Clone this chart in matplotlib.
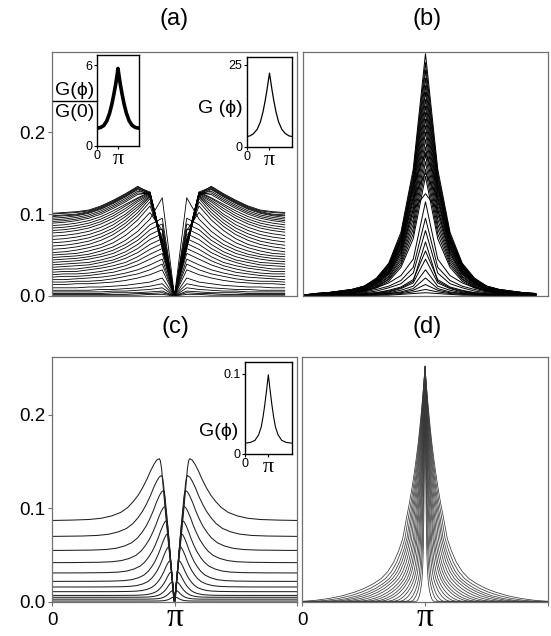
import numpy as np
import matplotlib
matplotlib.use("Agg")
import matplotlib.pyplot as plt
from matplotlib.transforms import blended_transform_factory

plt.rcParams['font.family'] = ['Liberation Sans', 'DejaVu Sans']
SERIF = ['Liberation Serif', 'DejaVu Serif']
PI = np.pi

# ---------------- data ----------------
# panel (a): coarse grid phi_j = j*2pi/20; values for j = 0..9 (value at pi = 0, right half mirrors)
a_grid_n = 20
a_center = 0.0
a_curves = [
    [0.101, 0.102, 0.103, 0.105, 0.110, 0.117, 0.125, 0.134, 0.125, 0.062],
    [0.100, 0.101, 0.102, 0.104, 0.109, 0.116, 0.124, 0.133, 0.127, 0.064],
    [0.098, 0.099, 0.100, 0.103, 0.108, 0.115, 0.123, 0.132, 0.124, 0.060],
    [0.097, 0.098, 0.099, 0.102, 0.107, 0.114, 0.122, 0.131, 0.126, 0.066],
    [0.095, 0.096, 0.098, 0.101, 0.106, 0.113, 0.121, 0.130, 0.123, 0.058],
    [0.093, 0.094, 0.096, 0.099, 0.104, 0.111, 0.119, 0.128, 0.125, 0.063],
    [0.091, 0.092, 0.094, 0.097, 0.102, 0.109, 0.117, 0.126, 0.124, 0.061],
    [0.089, 0.090, 0.092, 0.095, 0.100, 0.107, 0.115, 0.124, 0.126, 0.065],
    [0.086, 0.087, 0.089, 0.092, 0.097, 0.104, 0.112, 0.120, 0.127, 0.063],
    [0.083, 0.084, 0.086, 0.089, 0.094, 0.101, 0.110, 0.119, 0.126, 0.065],
    [0.080, 0.081, 0.083, 0.086, 0.091, 0.098, 0.107, 0.117, 0.125, 0.062],
    [0.077, 0.078, 0.080, 0.083, 0.088, 0.095, 0.104, 0.115, 0.124, 0.066],
    [0.073, 0.074, 0.076, 0.079, 0.084, 0.091, 0.100, 0.112, 0.123, 0.060],
    [0.069, 0.070, 0.072, 0.075, 0.080, 0.087, 0.097, 0.109, 0.122, 0.064],
    [0.065, 0.066, 0.068, 0.071, 0.076, 0.083, 0.093, 0.106, 0.121, 0.059],
    [0.061, 0.062, 0.064, 0.067, 0.072, 0.079, 0.089, 0.102, 0.119, 0.062],
    [0.057, 0.058, 0.060, 0.063, 0.068, 0.075, 0.085, 0.098, 0.115, 0.066],
    [0.053, 0.054, 0.056, 0.059, 0.063, 0.070, 0.080, 0.093, 0.110, 0.070],
    [0.050, 0.051, 0.052, 0.055, 0.059, 0.065, 0.074, 0.086, 0.102, 0.080],
    [0.047, 0.048, 0.049, 0.051, 0.055, 0.060, 0.068, 0.079, 0.094, 0.120],
    [0.044, 0.045, 0.046, 0.048, 0.051, 0.056, 0.063, 0.073, 0.087, 0.095],
    [0.041, 0.042, 0.043, 0.045, 0.048, 0.052, 0.059, 0.068, 0.081, 0.088],
    [0.038, 0.039, 0.040, 0.041, 0.044, 0.048, 0.054, 0.063, 0.075, 0.082],
    [0.035, 0.036, 0.037, 0.038, 0.041, 0.044, 0.050, 0.058, 0.069, 0.076],
    [0.032, 0.033, 0.033, 0.035, 0.037, 0.041, 0.046, 0.053, 0.063, 0.070],
    [0.029, 0.030, 0.030, 0.032, 0.034, 0.037, 0.041, 0.048, 0.057, 0.064],
    [0.026, 0.027, 0.027, 0.028, 0.030, 0.033, 0.037, 0.043, 0.051, 0.058],
    [0.023, 0.024, 0.024, 0.025, 0.027, 0.029, 0.033, 0.038, 0.045, 0.052],
    [0.020, 0.020, 0.021, 0.022, 0.023, 0.025, 0.028, 0.032, 0.038, 0.045],
    [0.017, 0.017, 0.018, 0.018, 0.019, 0.021, 0.024, 0.027, 0.032, 0.039],
    [0.014, 0.014, 0.015, 0.015, 0.016, 0.017, 0.019, 0.022, 0.026, 0.032],
    [0.010, 0.010, 0.010, 0.011, 0.011, 0.012, 0.013, 0.015, 0.017, 0.022],
    [0.007, 0.007, 0.007, 0.007, 0.008, 0.008, 0.009, 0.010, 0.012, 0.015],
    [0.005, 0.005, 0.005, 0.005, 0.005, 0.006, 0.006, 0.007, 0.008, 0.010],
    [0.003, 0.003, 0.003, 0.003, 0.003, 0.004, 0.004, 0.004, 0.005, 0.006],
    [0.002, 0.002, 0.002, 0.002, 0.002, 0.002, 0.002, 0.003, 0.003, 0.004],
    [0.001, 0.001, 0.001, 0.001, 0.001, 0.001, 0.001, 0.001, 0.002, 0.002],
]

# panel (b): same grid, values for j = 0..10 (last value is at pi), right half mirrors
b_grid_n = 20
b_curves = [
    [0.001, 0.003, 0.004, 0.006, 0.008, 0.012, 0.022, 0.040, 0.078, 0.155, 0.296],
    [0.001, 0.003, 0.004, 0.006, 0.008, 0.012, 0.021, 0.039, 0.075, 0.150, 0.285],
    [0.001, 0.003, 0.004, 0.006, 0.008, 0.012, 0.020, 0.038, 0.073, 0.146, 0.276],
    [0.001, 0.003, 0.004, 0.005, 0.007, 0.011, 0.020, 0.037, 0.071, 0.142, 0.266],
    [0.001, 0.002, 0.004, 0.005, 0.007, 0.011, 0.019, 0.036, 0.069, 0.138, 0.257],
    [0.001, 0.002, 0.004, 0.005, 0.007, 0.011, 0.019, 0.035, 0.067, 0.134, 0.249],
    [0.001, 0.002, 0.004, 0.005, 0.007, 0.010, 0.018, 0.034, 0.065, 0.130, 0.240],
    [0.001, 0.002, 0.004, 0.005, 0.007, 0.010, 0.018, 0.033, 0.063, 0.126, 0.232],
    [0.001, 0.002, 0.003, 0.005, 0.006, 0.010, 0.017, 0.031, 0.061, 0.121, 0.224],
    [0.001, 0.002, 0.003, 0.004, 0.006, 0.009, 0.016, 0.030, 0.058, 0.116, 0.216],
    [0.001, 0.002, 0.003, 0.004, 0.006, 0.009, 0.016, 0.029, 0.056, 0.111, 0.208],
    [0.001, 0.002, 0.003, 0.004, 0.006, 0.008, 0.015, 0.028, 0.053, 0.106, 0.200],
    [0.001, 0.002, 0.003, 0.004, 0.005, 0.008, 0.014, 0.026, 0.050, 0.100, 0.191],
    [0.001, 0.002, 0.003, 0.004, 0.005, 0.008, 0.013, 0.024, 0.047, 0.094, 0.182],
    [0.001, 0.002, 0.002, 0.003, 0.005, 0.007, 0.012, 0.023, 0.044, 0.088, 0.173],
    [0.001, 0.001, 0.002, 0.003, 0.004, 0.007, 0.011, 0.021, 0.041, 0.082, 0.164],
    [0.001, 0.001, 0.002, 0.003, 0.004, 0.006, 0.011, 0.020, 0.038, 0.076, 0.155],
    [0.001, 0.001, 0.002, 0.003, 0.004, 0.006, 0.010, 0.018, 0.035, 0.070, 0.146],
    [0.001, 0.002, 0.004, 0.005, 0.007, 0.011, 0.019, 0.035, 0.068, 0.135, 0.175],
    [0.001, 0.002, 0.003, 0.005, 0.006, 0.010, 0.017, 0.031, 0.060, 0.120, 0.150],
    [0.001, 0.002, 0.003, 0.004, 0.006, 0.008, 0.015, 0.027, 0.053, 0.105, 0.125],
    [0.000, 0.001, 0.002, 0.003, 0.004, 0.006, 0.010, 0.016, 0.025, 0.045, 0.115],
    [0.000, 0.001, 0.002, 0.002, 0.003, 0.005, 0.008, 0.012, 0.019, 0.035, 0.095],
    [0.000, 0.001, 0.001, 0.002, 0.003, 0.004, 0.006, 0.010, 0.015, 0.028, 0.080],
    [0.000, 0.001, 0.001, 0.002, 0.002, 0.003, 0.004, 0.006, 0.010, 0.018, 0.066],
    [0.000, 0.001, 0.001, 0.001, 0.002, 0.003, 0.004, 0.007, 0.011, 0.020, 0.055],
    [0.000, 0.000, 0.001, 0.001, 0.002, 0.002, 0.003, 0.005, 0.009, 0.016, 0.045],
    [0.000, 0.000, 0.001, 0.001, 0.001, 0.002, 0.003, 0.004, 0.007, 0.012, 0.032],
    [0.000, 0.000, 0.000, 0.001, 0.001, 0.001, 0.002, 0.003, 0.005, 0.009, 0.022],
    [0.000, 0.000, 0.000, 0.001, 0.001, 0.001, 0.002, 0.003, 0.004, 0.007, 0.014],
    [0.000, 0.000, 0.000, 0.000, 0.001, 0.001, 0.001, 0.002, 0.003, 0.005, 0.008],
    [0.000, 0.000, 0.000, 0.000, 0.000, 0.001, 0.001, 0.001, 0.002, 0.003, 0.004],
]

# panel (c): per-curve readings (baseline at phi=0, peak height, peak distance from pi, rise width)
c_baseline = [0.087, 0.070, 0.055, 0.042, 0.031, 0.022, 0.016, 0.011, 0.007, 0.005, 0.003, 0.001]
c_peak = [0.153, 0.135, 0.119, 0.102, 0.087, 0.073, 0.059, 0.044, 0.032, 0.021, 0.012, 0.005]
c_peak_offset = [0.39, 0.33, 0.28, 0.24, 0.20, 0.17, 0.14, 0.11, 0.085, 0.068, 0.051, 0.034]
c_rise_width = [0.45, 0.41, 0.37, 0.34, 0.31, 0.28, 0.25, 0.22, 0.19, 0.16, 0.13, 0.10]
# normalised profile: inner (towards pi) and outer flanks
c_inner_t = [0.0, 0.2, 0.4, 0.6, 0.75, 0.85, 0.93, 1.0]
c_inner_h = [0.0, 0.20, 0.41, 0.63, 0.81, 0.93, 0.985, 1.0]
c_outer_v = [0.0, 0.15, 0.3, 0.5, 0.7, 0.95, 1.2, 1.5, 1.8, 2.2, 2.7, 3.3, 4.0, 5.0, 7.0, 10.0]
c_outer_h = [1.0, 0.975, 0.91, 0.80, 0.67, 0.53, 0.41, 0.30, 0.21, 0.13, 0.075, 0.036,
             0.016, 0.006, 0.001, 0.0]

# panel (d): normalised cusp profile of the widest curve, per-curve widths and peaks
d_profile_u = [0.0, 0.01, 0.025, 0.045, 0.07, 0.10, 0.135, 0.175, 0.22, 0.27, 0.33, 0.40,
               0.48, 0.57, 0.67, 0.80, 0.95, 1.12, 1.32, 1.55, 1.8, 2.1, 2.45, 2.8, 3.1416]
d_profile_f = [1.0, 0.978, 0.946, 0.905, 0.856, 0.801, 0.741, 0.678, 0.618, 0.556, 0.489, 0.421,
               0.352, 0.27, 0.22, 0.17, 0.13, 0.10, 0.078, 0.058, 0.042, 0.027, 0.015, 0.007, 0.003]
d_width = [1.0, 0.9, 0.81, 0.74, 0.67, 0.60, 0.53, 0.47, 0.41, 0.36, 0.30, 0.25, 0.20, 0.15, 0.11, 0.07]
d_peak = [0.250, 0.251, 0.252, 0.251, 0.250, 0.249, 0.248, 0.247, 0.246, 0.245, 0.244, 0.243,
          0.242, 0.240, 0.238, 0.236]

# insets: distance from pi and value
ia1_delta = [0, 0.15, 0.35, 0.6, 0.9, 1.25, 1.65, 2.1, 2.6, 3.1416]
ia1_value = [5.75, 5.2, 4.55, 3.85, 3.1, 2.4, 1.85, 1.5, 1.35, 1.3]
ia2_delta = [0, 0.15, 0.35, 0.6, 0.9, 1.25, 1.7, 2.2, 2.7, 3.1416]
ia2_value = [22.5, 20.3, 17.3, 14.0, 10.6, 7.6, 5.3, 4.0, 3.3, 3.1]
ic_delta = [0, 0.1, 0.22, 0.35, 0.5, 0.7, 0.95, 1.3, 1.8, 2.4, 3.1416]
ic_value = [0.099, 0.091, 0.081, 0.071, 0.060, 0.047, 0.034, 0.024, 0.017, 0.0145, 0.0135]


# ---------------- helpers ----------------
def mirror(delta, vals):
    d = np.asarray(delta, float)
    v = np.asarray(vals, float)
    x = np.concatenate([PI - d[::-1], PI + d[1:]])
    y = np.concatenate([v[::-1], v[1:]])
    return x, y


fig = plt.figure(figsize=(5.51, 6.36), dpi=100)
SP = '#707070'


def main_axes(rect, ylim):
    ax = fig.add_axes(rect)
    for s in ax.spines.values():
        s.set_color(SP)
        s.set_linewidth(0.9)
    ax.set_xlim(0, 2 * PI)
    ax.set_ylim(*ylim)
    ax.tick_params(direction='out', length=3, width=0.8, color=SP, labelsize=13.5, pad=2)
    return ax


def inset_axes(rect, ylim, yt, ytl):
    ax = fig.add_axes(rect)
    for s in ax.spines.values():
        s.set_color('black')
        s.set_linewidth(1.0)
    ax.set_xlim(0, 2 * PI)
    ax.set_ylim(*ylim)
    ax.set_yticks(yt)
    ax.set_yticklabels(ytl)
    ax.set_xticks([0, PI])
    ax.set_xticklabels(['0', 'π'])
    ax.tick_params(direction='out', length=2, width=0.8, labelsize=9, pad=1)
    lab = ax.get_xticklabels()
    lab[1].set_fontfamily(SERIF)
    lab[1].set_fontsize(16)
    return ax


YL_AB = (0, 0.298)
YL_CD = (0, 0.2615)

# (a)
ax_a = main_axes([0.0944, 0.5346, 0.4446, 0.3836], YL_AB)
ax_a.set_xticks([])
ax_a.set_yticks([0, 0.1, 0.2])
ax_a.set_yticklabels(['0.0', '0.1', '0.2'])
xa = np.arange(a_grid_n) * 2 * PI / a_grid_n
for row in a_curves:
    ya = row + [a_center] + row[:0:-1]
    ax_a.plot(xa, ya, color='black', lw=0.6)

# (b)
ax_b = main_axes([0.5499, 0.5346, 0.4446, 0.3836], YL_AB)
ax_b.set_xticks([])
ax_b.set_yticks([])
xb = np.arange(b_grid_n) * 2 * PI / b_grid_n
for row in b_curves:
    yb = row + row[-2:0:-1]
    ax_b.plot(xb, yb, color='black', lw=0.7)

# (c)
ax_c = main_axes([0.0944, 0.0535, 0.4446, 0.3852], YL_CD)
ax_c.set_yticks([0, 0.1, 0.2])
ax_c.set_yticklabels(['0.0', '0.1', '0.2'])
for b, p, dp, w in zip(c_baseline, c_peak, c_peak_offset, c_rise_width):
    d_in = np.array(c_inner_t) * dp
    g_in = p * np.array(c_inner_h)
    d_out = dp + np.array(c_outer_v) * w
    g_out = b + (p - b) * np.array(c_outer_h)
    d = np.concatenate([d_in, d_out[1:]])
    g = np.concatenate([g_in, g_out[1:]])
    keep = d < PI
    d = np.append(d[keep], PI)
    g = np.append(g[keep], b)
    x, y = mirror(d, g)
    ax_c.plot(x, y, color='#202020', lw=0.75)

# (d)
ax_d = main_axes([0.5481, 0.0535, 0.4465, 0.3852], YL_CD)
ax_d.set_yticks([])
for s_k, p_k in zip(d_width, d_peak):
    d = np.array(d_profile_u) * s_k
    g = p_k * np.array(d_profile_f)
    if d[-1] < PI:
        d = np.append(d, PI)
        g = np.append(g, 0.0003)
    x, y = mirror(d, g)
    ax_d.plot(x, y, color='#383838', lw=0.55)

for ax in (ax_c, ax_d):
    ax.set_xticks([0, PI, 2 * PI])
    ax.set_xticklabels(['0', '', ''])
    ax.tick_params(axis='x', pad=4)
    tr = blended_transform_factory(ax.transData, ax.transAxes)
    ax.text(PI, -0.098, 'π', transform=tr, ha='center', va='baseline',
            fontsize=24, fontfamily=SERIF)

# panel titles
for xf, yf, t in [(0.3167, 0.9706, '(a)'), (0.7744, 0.9706, '(b)'),
                  (0.3176, 0.4855, '(c)'), (0.7744, 0.4855, '(d)')]:
    fig.text(xf, yf, t, ha='center', va='center', fontsize=17)

# insets
in1 = inset_axes([0.1755, 0.7709, 0.0773, 0.1426], (0, 6.75), [0, 6], ['0', '6'])
x, y = mirror(ia1_delta, ia1_value)
in1.plot(x, y, color='black', lw=2.6)

in2 = inset_axes([0.4477, 0.7693, 0.0828, 0.1415], (0, 27.5), [0, 25], ['0', '25'])
x, y = mirror(ia2_delta, ia2_value)
in2.plot(x, y, color='black', lw=0.9)

in3 = inset_axes([0.4446, 0.2862, 0.0848, 0.1447], (0, 0.115), [0, 0.1], ['0', '0.1'])
x, y = mirror(ic_delta, ic_value)
in3.plot(x, y, color='black', lw=0.8)

# inset y labels
fig.text(0.1356, 0.857, 'G(ϕ)', ha='center', va='center', fontsize=14)
fig.add_artist(plt.Line2D([0.096, 0.1755], [0.8405, 0.8405], color='black', lw=1.0,
                          transform=fig.transFigure))
fig.text(0.1356, 0.8228, 'G(0)', ha='center', va='center', fontsize=14)
fig.text(0.3993, 0.8297, 'G (ϕ)', ha='center', va='center', fontsize=14)
fig.text(0.3975, 0.3223, 'G(ϕ)', ha='center', va='center', fontsize=14)

fig.savefig('out.png', dpi=100)
